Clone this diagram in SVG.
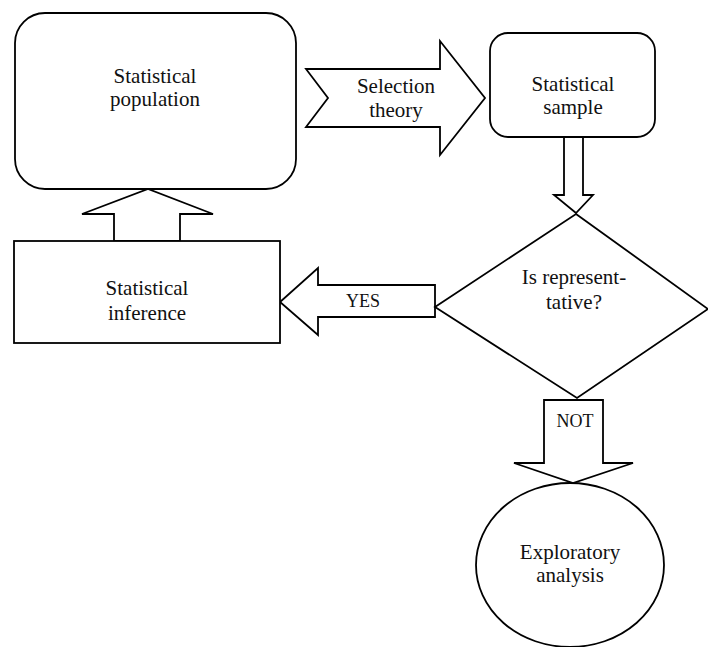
<svg xmlns="http://www.w3.org/2000/svg" width="708" height="647" viewBox="0 0 708 647">
<style>
.s{fill:#fff;stroke:#000;stroke-width:1.8;stroke-linejoin:miter}
text{font-family:"Liberation Serif","Times New Roman",serif;fill:#111;text-anchor:middle}
.m{font-size:21px}
.l{font-size:18px}
</style>
<rect width="708" height="647" fill="#fff"/>
<g id="connectors">
<polygon class="s" points="306,69 440,69 440,41 485,98 440,155 440,127 306,127 328,98"/>
<text class="m" x="396" y="93">Selection</text>
<text class="m" x="396" y="117">theory</text>
<polygon class="s" points="564,137 583,137 583,195 593,195 576,213 554,195 564,195"/>
<polygon class="s" points="435,285 318,285 318,268 280,302 318,335 318,317 435,317"/>
<text class="l" x="363" y="307">YES</text>
<polygon class="s" points="114,241 114,214 82,214 148,189 213,214 180,214 180,241"/>
<polygon class="s" points="544,400 603,400 603,463 633,463 573,483 514,463 544,463"/>
<text class="l" x="575" y="427">NOT</text>
</g>
<g id="population">
<rect class="s" x="15" y="13" width="281" height="176" rx="30"/>
<text class="m" x="155" y="83">Statistical</text>
<text class="m" x="155" y="106">population</text>
</g>
<g id="sample">
<rect class="s" x="490" y="33" width="165" height="104" rx="18"/>
<text class="m" x="573" y="91">Statistical</text>
<text class="m" x="573" y="114">sample</text>
</g>
<g id="decision">
<polygon class="s" points="576,214 708,309 577,398 435,307"/>
<text class="m" x="574" y="284">Is represent-</text>
<text class="m" x="574" y="309">tative?</text>
</g>
<g id="inference">
<rect class="s" x="14" y="241" width="266" height="102"/>
<text class="m" x="147" y="295">Statistical</text>
<text class="m" x="147" y="320">inference</text>
</g>
<g id="exploratory">
<ellipse class="s" cx="570" cy="565" rx="94" ry="82"/>
<text class="m" x="570" y="559">Exploratory</text>
<text class="m" x="570" y="582">analysis</text>
</g>
</svg>
